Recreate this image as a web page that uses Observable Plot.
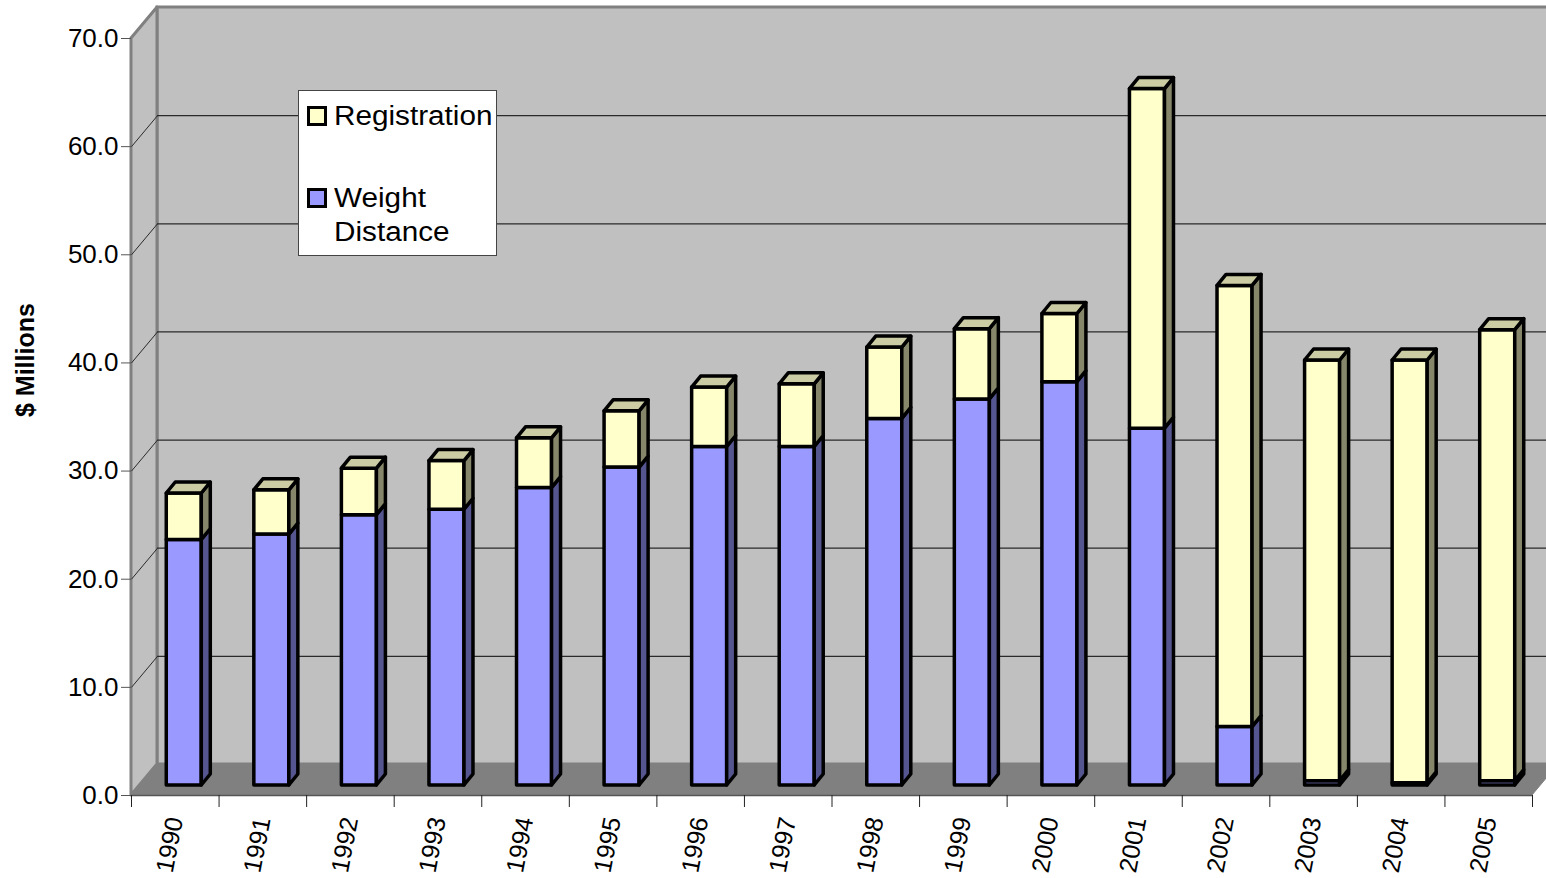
<!DOCTYPE html>
<html>
<head>
<meta charset="utf-8">
<script src="https://cdn.jsdelivr.net/npm/d3@7"></script>
<script src="https://cdn.jsdelivr.net/npm/@observablehq/plot@0.6"></script>
<style>
  html, body { margin: 0; padding: 0; background: #fff; overflow: hidden; }
  #wrap { position: relative; width: 1546px; height: 878px; }
  #legend { position: absolute; left: 298px; top: 90px; width: 199px; height: 166px; background: #fff;
            border: 1px solid #444; font-family: "Liberation Sans", Arial, sans-serif; font-size: 27px; color: #000; box-sizing: border-box; }
  .sw { position: absolute; width: 20px; height: 20px; border: 3px solid #000; box-sizing: border-box; }
  .lt { position: absolute; line-height: 34px; white-space: nowrap; transform: scaleX(1.1); transform-origin: left center; }
</style>
</head>
<body>
<div id="wrap">
  <div id="chart"></div>
  <div id="legend"></div>
</div>
<script>
// ---- data ----
const years = [1990, 1991, 1992, 1993, 1994, 1995, 1996, 1997, 1998, 1999, 2000, 2001, 2002, 2003, 2004, 2005];
const weightDistance = [22.7, 23.2, 25.0, 25.5, 27.5, 29.4, 31.3, 31.3, 33.9, 35.7, 37.3, 33.0, 5.4, 0.4, 0.2, 0.4];
const registration   = [4.3, 4.1, 4.3, 4.5, 4.6, 5.2, 5.5, 5.8, 6.6, 6.5, 6.3, 31.4, 40.8, 38.9, 39.1, 41.7];
const seriesNames = ["Weight Distance", "Registration"];
const yTicks = [0, 10, 20, 30, 40, 50, 60, 70];
const yLabel = "$ Millions";

// ---- styles ----
const colors = {
  "Weight Distance": {front: "#9999FF", side: "#55558F", top: "#7A7ACC"},
  "Registration":    {front: "#FFFFCC", side: "#86866A", top: "#CBCBA4"}
};
const W = 1546, H = 878, mL = 131, mR = 14, mT = 38, mB = 83;
const yMax = 70;
const kx = (W - mL - mR) / years.length;   // px per year
const ky = (H - mT - mB) / yMax;           // px per unit
const wall = {dx: 26, dy: -31};
const barOff = {dx: 9, dy: -10};
const barDepth = {dx: 9, dy: -11};
const half = 0.2;
const sx = barDepth.dx / kx, sy = -barDepth.dy / ky;
const wx = wall.dx / kx, wy = -wall.dy / ky;
const xStart = years[0] - 0.5, xEnd = years[years.length - 1] + 0.5;
const boundaries = d3.range(years.length + 1).map(i => xStart + i);

// ---- derived tables ----
const segs = [];
years.forEach((year, i) => {
  const w = weightDistance[i], r = registration[i];
  segs.push({id: year + "w", year, series: seriesNames[0], lo: 0, hi: w, isTop: r <= 0});
  segs.push({id: year + "r", year, series: seriesNames[1], lo: w, hi: w + r, isTop: true});
});
const sidePts = segs.flatMap(s => [
  {id: s.id, series: s.series, x: s.year + half, y1: s.lo, y2: s.hi},
  {id: s.id, series: s.series, x: s.year + half + sx, y1: s.lo + sy, y2: s.hi + sy}
]);
const topPts = segs.filter(s => s.isTop).flatMap(s => [
  {id: s.id, series: s.series, y: s.hi, x1: s.year - half, x2: s.year + half},
  {id: s.id, series: s.series, y: s.hi + sy, x1: s.year - half + sx, x2: s.year + half + sx}
]);

const barMarks = seriesNames.flatMap(name => [
  Plot.rect(segs.filter(s => s.series === name), {
    x1: s => s.year - half, x2: s => s.year + half, y1: "lo", y2: "hi",
    fill: colors[name].front, stroke: "#000", strokeWidth: 3.5, strokeLinejoin: "round", ...barOff
  }),
  Plot.areaY(sidePts.filter(p => p.series === name), {
    x: "x", y1: "y1", y2: "y2", z: "id", curve: "linear",
    fill: colors[name].side, stroke: "#000", strokeWidth: 3.5, strokeLinejoin: "round", ...barOff
  }),
  Plot.areaX(topPts.filter(p => p.series === name), {
    y: "y", x1: "x1", x2: "x2", z: "id", curve: "linear",
    fill: colors[name].top, stroke: "#000", strokeWidth: 3.5, strokeLinejoin: "round", ...barOff
  })
]);

const chart = Plot.plot({
  width: W, height: H,
  marginLeft: mL, marginRight: mR, marginTop: mT, marginBottom: mB,
  style: {fontFamily: "'Liberation Sans', Arial, sans-serif", fontSize: "25px", color: "#000", background: "#fff", overflow: "hidden"},
  x: {type: "linear", domain: [xStart, xEnd], label: null},
  y: {domain: [0, yMax], label: null},
  marks: [
    // back wall
    Plot.rect([{}], {x1: xStart, x2: xEnd, y1: 0, y2: yMax, fill: "#C0C0C0", stroke: "#808080", strokeWidth: 3, ...wall}),
    // left side wall
    Plot.areaY([{x: xStart, y1: 0, y2: yMax}, {x: xStart + wx, y1: wy, y2: yMax + wy}],
      {x: "x", y1: "y1", y2: "y2", curve: "linear", fill: "#C0C0C0", stroke: "#808080", strokeWidth: 3}),
    // floor
    Plot.areaX([{y: 0, x1: xStart, x2: xEnd}, {y: wy, x1: xStart + wx, x2: xEnd + wx}],
      {y: "y", x1: "x1", x2: "x2", curve: "linear", fill: "#808080", stroke: "#808080", strokeWidth: 1}),
    // gridlines on back wall
    Plot.ruleY(yTicks.slice(1, -1), {x1: xStart, x2: xEnd, stroke: "#2a2a2a", strokeWidth: 1.2, ...wall}),
    // gridlines on side wall
    Plot.link(yTicks.slice(1, -1), {x1: xStart, y1: d => d, x2: xStart + wx, y2: d => d + wy, stroke: "#2a2a2a", strokeWidth: 1}),
    // front floor edge
    Plot.ruleY([0], {x1: xStart, x2: xEnd, stroke: "#555", strokeWidth: 1.5}),
    ...barMarks,
    // axes
    Plot.axisY(yTicks, {tickFormat: d3.format(".1f"), tickSize: 10, tickPadding: 3, fontSize: 26, stroke: "#555", label: null}),
    Plot.axisX(boundaries, {tickFormat: () => "", tickSize: 12, stroke: "#222", label: null}),
    Plot.axisX(years, {tickSize: 0, tickPadding: 22, tickRotate: -79, fontSize: 25, tickFormat: d => String(d), label: null}),
    Plot.text([yLabel], {text: d => d, frameAnchor: "left", dx: -106, dy: 0, rotate: -90, fontWeight: "bold", fontSize: 25})
  ]
});
document.getElementById("chart").appendChild(chart);

// ---- legend (overlay) ----
const legend = document.getElementById("legend");
const legendItems = [
  {name: "Registration", lines: ["Registration"], sw: [8, 15], text: [35, 8]},
  {name: "Weight Distance", lines: ["Weight", "Distance"], sw: [8, 97], text: [35, 90]}
];
legendItems.forEach(item => {
  const sw = document.createElement("div");
  sw.className = "sw";
  sw.style.left = item.sw[0] + "px"; sw.style.top = item.sw[1] + "px";
  sw.style.background = colors[item.name].front;
  legend.appendChild(sw);
  const t = document.createElement("div");
  t.className = "lt";
  t.style.left = item.text[0] + "px"; t.style.top = item.text[1] + "px";
  t.innerHTML = item.lines.join("<br>");
  legend.appendChild(t);
});
</script>
</body>
</html>
